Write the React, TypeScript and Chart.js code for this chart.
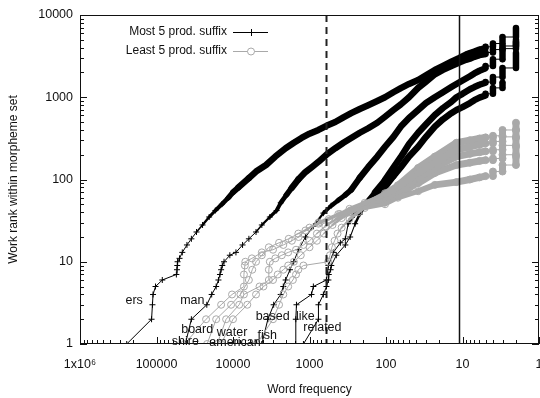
import React, { useEffect, useRef } from "react";
import { Chart, registerables } from "chart.js";

Chart.register(...registerables);

type Pt = [number, number]; // [word frequency, rank within morpheme set]

// ---- axis ticks ----
const xTickValues = [1e6, 1e5, 1e4, 1000, 100, 10, 1];
const xTickLabels = ["1x10\u2076", "100000", "10000", "1000", "100", "10", "1"];
const yTickValues = [1, 10, 100, 1000, 10000];
const yTickLabels = ["1", "10", "100", "1000", "10000"];

// ---- reference lines (word frequency) ----
const dashedLineFreq = 600;
const solidLineFreq = 11;

// ---- Most 5 productive suffixes ----
const ersPoints: Pt[] = [
  [245000, 1], [116000, 2], [113000, 3], [111000, 4], [103000, 5], [84000, 6], [55000, 7], [54000, 8],
  [53500, 9], [53000, 10], [50000, 11], [46000, 13], [40000, 16], [35000, 19], [30000, 23], [25000, 28],
  [20500, 35], [17000, 42], [14000, 50], [11500, 60], [10000, 70], [8500, 80], [6200, 104], [5000, 125],
  [3700, 150], [2800, 190], [2050, 240], [1600, 280], [1270, 320], [1000, 360], [764, 400], [600, 450],
  [460, 500], [360, 570], [285, 640], [220, 720], [171, 800], [130, 900], [103, 1000], [80, 1150],
  [64, 1290], [50, 1450], [38, 1620], [30, 1850], [23, 2150], [18, 2400], [14, 2700], [11, 3000],
  [9, 3300], [8, 3450], [7, 3600], [6, 3800], [5, 3950], [5, 4100], [4, 4100], [4, 4500], [3, 4500],
  [3, 5400], [2, 5400], [2, 6950],
];
const manPoints: Pt[] = [
  [42000, 1], [35000, 2], [22000, 3], [19000, 4], [16600, 5], [15500, 6], [14800, 7], [14300, 8],
  [13800, 9], [13100, 10], [11000, 12], [9150, 13], [7500, 16], [6200, 19], [5000, 23], [4200, 28],
  [3300, 35], [2690, 42], [2380, 52], [2000, 65], [1710, 79], [1400, 100], [1130, 123], [900, 145],
  [764, 164], [600, 200], [459, 240], [360, 280], [285, 320], [220, 370], [171, 420], [130, 490],
  [103, 580], [80, 700], [64, 820], [50, 1000], [38, 1300], [30, 1550], [23, 1900], [18, 2150],
  [14, 2400], [11, 2650], [9, 2850], [8, 2950], [7, 3100], [6, 3250], [5, 3350], [5, 3500], [4, 3500],
  [4, 3800], [3, 3800], [3, 4200], [2, 4200], [2, 5000],
];
const basedPoints: Pt[] = [
  [4200, 1], [3500, 2], [2940, 3], [2380, 4], [2200, 5], [2050, 6], [1800, 8], [1610, 10], [1390, 14],
  [1130, 20], [890, 27], [658, 39], [520, 48], [420, 56], [340, 65], [285, 75], [220, 105], [171, 141],
  [130, 190], [103, 250], [80, 330], [64, 440], [50, 560], [38, 700], [30, 850], [23, 1000], [18, 1150],
  [14, 1330], [12, 1450], [10, 1600], [8, 1800], [7, 1950], [6, 2100], [5, 2250], [5, 2400], [4, 2400],
  [4, 2900], [3, 2900], [3, 3900], [2, 3900], [2, 4700],
];
const likePoints: Pt[] = [
  [1520, 1], [1510, 2], [1480, 3], [942, 4], [890, 5], [601, 6], [566, 9], [488, 13], [395, 17],
  [340, 19], [312, 29], [260, 37], [231, 45], [182, 52], [140, 70], [103, 99], [80, 140], [64, 188],
  [50, 270], [38, 370], [30, 470], [23, 610], [18, 740], [14, 880], [12, 1000], [10, 1100], [8, 1250],
  [7, 1330], [6, 1420], [5, 1500], [5, 1530], [4, 1530], [4, 1760], [3, 1760], [3, 2270], [2, 2270],
  [2, 3450],
];
const relatedPoints: Pt[] = [
  [1200, 1], [764, 2], [764, 3], [658, 4], [600, 5], [566, 6], [560, 7], [530, 8], [518, 9], [446, 12],
  [340, 16], [294, 20], [253, 29], [220, 38], [188, 49], [140, 62], [103, 81], [80, 110], [64, 141],
  [50, 190], [38, 250], [30, 330], [23, 440], [18, 540], [14, 640], [12, 700], [10, 760], [8, 850],
  [7, 920], [6, 990], [5, 1050], [5, 1100], [4, 1100], [4, 1300], [3, 1300], [3, 1500],
];

// ---- Least 5 productive suffixes ----
const shirePoints: Pt[] = [
  [43000, 1], [22500, 2], [14300, 3], [10300, 4], [7200, 5], [7200, 7], [7000, 9], [6900, 10],
  [5660, 11], [4200, 13], [3000, 14], [2200, 16], [1700, 18], [1390, 20], [1130, 24], [764, 30],
  [420, 38], [190, 45], [103, 50], [70, 60], [38, 72], [23, 86], [12, 93], [8, 100], [6, 106], [5, 110],
  [4, 110], [4, 125], [3, 125], [3, 150], [2, 150], [2, 190],
];
const boardPoints: Pt[] = [
  [21800, 1], [16600, 2], [10600, 3], [8000, 4], [6200, 6], [5600, 8], [5000, 10], [4200, 12],
  [3400, 15], [2500, 17], [1870, 19], [1400, 22], [1000, 26], [764, 29], [560, 33], [400, 38],
  [300, 44], [190, 52], [103, 65], [70, 80], [38, 120], [23, 160], [12, 230], [8, 250], [6, 265],
  [5, 275], [4, 275], [4, 290], [3, 290], [3, 330], [2, 330], [2, 400],
];
const americanPoints: Pt[] = [
  [16100, 1], [12300, 2], [8300, 3], [7200, 4], [4500, 5], [3400, 6], [3400, 8], [3300, 10],
  [2800, 11], [2300, 12], [1900, 13], [1500, 14], [1200, 16], [1000, 18], [800, 22], [620, 27],
  [450, 33], [300, 40], [190, 48], [103, 58], [70, 70], [38, 105], [23, 140], [12, 190], [8, 205],
  [6, 215], [5, 220], [4, 220], [4, 230], [3, 230], [3, 260], [2, 260], [2, 320],
];
const waterPoints: Pt[] = [
  [14300, 1], [10000, 2], [6500, 3], [5000, 4], [4000, 5], [3000, 6], [2600, 7], [2200, 8], [1900, 9],
  [1600, 10], [1300, 12], [1000, 15], [800, 18], [650, 22], [500, 28], [380, 34], [280, 40], [190, 50],
  [103, 68], [70, 85], [38, 138], [23, 190], [12, 280], [8, 300], [6, 315], [5, 325], [4, 325],
  [4, 340], [3, 340], [3, 400], [2, 400], [2, 490],
];
const fishPoints: Pt[] = [
  [4900, 1], [3000, 2], [2500, 3], [2200, 4], [1900, 5], [1650, 6], [1500, 7], [1400, 8], [1200, 9],
  [570, 10], [540, 12], [510, 15], [470, 18], [430, 22], [380, 26], [300, 33], [230, 40], [190, 47],
  [103, 55], [70, 62], [38, 90], [23, 120], [12, 150], [8, 160], [6, 168], [5, 172], [4, 172],
  [4, 180], [3, 180], [3, 200], [2, 200], [2, 250],
];

const mostSeries = [ersPoints, manPoints, basedPoints, likePoints, relatedPoints];
const leastSeries = [shirePoints, boardPoints, americanPoints, waterPoints, fishPoints];

// series name labels, anchored at [frequency, rank]
const seriesLabelText = ["ers", "man", "board", "shire", "water", "american", "based", "like", "fish", "related"];
const seriesLabelAt: Pt[] = [
  [196000, 3.33], [34000, 3.33], [29400, 1.48], [42000, 1.06], [10300, 1.36], [9420, 1.03],
  [3030, 2.13], [1130, 2.13], [3560, 1.25], [678, 1.57],
];

const legendText = ["Most 5 prod. suffix", "Least 5 prod. suffix"];

const FONT = "'Liberation Sans', Arial, sans-serif";
const BLACK = "#000000";
const GRAY = "#a9a9a9";

function segWidth(maxW: number) {
  return (ctx: any) => {
    const a = ctx.p0.parsed;
    const b = ctx.p1.parsed;
    if (a.y === b.y) return 1;
    const r = Math.min(a.y, b.y);
    if (a.x === b.x && r >= 50) return maxW;
    const w = 1 + (Math.log10(r) - 1.3) * 9;
    return Math.max(1, Math.min(maxW, w));
  };
}

const toXY = (pts: Pt[]) => pts.map(([x, y]) => ({ x, y }));

const overlayPlugin = {
  id: "overlay",
  afterDatasetsDraw(chart: any) {
    const { ctx, chartArea: a, scales } = chart;
    const xs = scales.x;
    const ys = scales.y;
    ctx.save();
    const xd = Math.round(xs.getPixelForValue(dashedLineFreq)) + 0.5;
    ctx.strokeStyle = "#222";
    ctx.lineWidth = 2;
    ctx.setLineDash([7, 5]);
    ctx.beginPath();
    ctx.moveTo(xd, a.top);
    ctx.lineTo(xd, a.bottom);
    ctx.stroke();
    ctx.setLineDash([]);
    const xsld = Math.round(xs.getPixelForValue(solidLineFreq)) + 0.5;
    ctx.lineWidth = 1.5;
    ctx.strokeStyle = "#111";
    ctx.beginPath();
    ctx.moveTo(xsld, a.top);
    ctx.lineTo(xsld, a.bottom);
    ctx.stroke();

    ctx.fillStyle = "#111";
    ctx.font = `12.5px ${FONT}`;
    ctx.textAlign = "center";
    ctx.textBaseline = "middle";
    seriesLabelText.forEach((t, i) => {
      const [f, r] = seriesLabelAt[i];
      ctx.fillText(t, xs.getPixelForValue(f), ys.getPixelForValue(r));
    });
    ctx.restore();
  },
  afterDraw(chart: any) {
    const { ctx, chartArea: a, scales } = chart;
    const xs = scales.x;
    const ys = scales.y;
    ctx.save();
    ctx.strokeStyle = "#111";
    ctx.lineWidth = 1;
    ctx.strokeRect(a.left + 0.5, a.top + 0.5, a.right - a.left - 1, a.bottom - a.top - 1);
    ctx.beginPath();
    for (let d = 0; d < yTickValues.length; d++) {
      const base = yTickValues[d];
      for (let k = 1; k <= 9; k++) {
        const v = base * k;
        if (v > 10000) break;
        const y = Math.round(ys.getPixelForValue(v)) + 0.5;
        const len = k === 1 ? 7 : 4;
        ctx.moveTo(a.left, y);
        ctx.lineTo(a.left + len, y);
        ctx.moveTo(a.right, y);
        ctx.lineTo(a.right - len, y);
      }
    }
    for (let d = xTickValues.length - 1; d >= 0; d--) {
      const base = xTickValues[d];
      for (let k = 1; k <= 9; k++) {
        const v = base * k;
        if (v > 1e6) break;
        const x = Math.round(xs.getPixelForValue(v)) + 0.5;
        const len = k === 1 ? 7 : 4;
        ctx.moveTo(x, a.bottom);
        ctx.lineTo(x, a.bottom - len);
      }
    }
    ctx.stroke();

    ctx.font = `12px ${FONT}`;
    ctx.textAlign = "right";
    ctx.textBaseline = "middle";
    ctx.fillStyle = "#111";
    const rowsY = [32, 51];
    legendText.forEach((t, i) => ctx.fillText(t, 227, rowsY[i]));
    ctx.lineWidth = 1;
    ctx.strokeStyle = BLACK;
    ctx.beginPath();
    ctx.moveTo(233, rowsY[0] + 0.5);
    ctx.lineTo(268, rowsY[0] + 0.5);
    ctx.moveTo(251.5, rowsY[0] - 3);
    ctx.lineTo(251.5, rowsY[0] + 4);
    ctx.moveTo(248, rowsY[0] + 0.5);
    ctx.lineTo(255, rowsY[0] + 0.5);
    ctx.stroke();
    ctx.strokeStyle = GRAY;
    ctx.beginPath();
    ctx.moveTo(233, rowsY[1] + 0.5);
    ctx.lineTo(247.5, rowsY[1] + 0.5);
    ctx.moveTo(254.5, rowsY[1] + 0.5);
    ctx.lineTo(268, rowsY[1] + 0.5);
    ctx.stroke();
    ctx.beginPath();
    ctx.arc(251, rowsY[1] + 0.5, 3.5, 0, Math.PI * 2);
    ctx.stroke();

    ctx.fillStyle = "#111";
    ctx.font = `12px ${FONT}`;
    ctx.textAlign = "center";
    ctx.textBaseline = "middle";
    ctx.fillText("Word frequency", (a.left + a.right) / 2, 390);
    ctx.translate(14, (a.top + a.bottom) / 2);
    ctx.rotate(-Math.PI / 2);
    ctx.fillText("Work rank within morpheme set", 0, 0);
    ctx.restore();
  },
};

export default function App() {
  const ref = useRef<HTMLCanvasElement>(null);
  useEffect(() => {
    const canvas = ref.current;
    if (!canvas) return;
    const grayDatasets = leastSeries.map((pts) => ({
      data: toXY(pts),
      showLine: true,
      borderColor: GRAY,
      borderWidth: 1,
      borderCapStyle: "round" as const,
      borderJoinStyle: "round" as const,
      pointStyle: "circle" as const,
      pointRadius: 3.5,
      pointBorderWidth: 1,
      pointBorderColor: GRAY,
      pointBackgroundColor: "rgba(0,0,0,0)",
      segment: { borderWidth: segWidth(7) },
      order: 0,
    }));
    const blackDatasets = mostSeries.map((pts) => ({
      data: toXY(pts),
      showLine: true,
      borderColor: BLACK,
      borderWidth: 1,
      borderCapStyle: "round" as const,
      borderJoinStyle: "round" as const,
      pointStyle: "cross" as const,
      pointRadius: 3,
      pointBorderWidth: 1,
      pointBorderColor: BLACK,
      pointBackgroundColor: BLACK,
      segment: { borderWidth: segWidth(6.5) },
      order: 1,
    }));
    const chart = new Chart(canvas, {
      type: "scatter",
      data: { datasets: [...grayDatasets, ...blackDatasets] as any },
      options: {
        responsive: false,
        animation: false,
        events: [],
        layout: { padding: { left: 0, right: 1, top: 15, bottom: 0 }, autoPadding: false } as any,
        plugins: { legend: { display: false }, tooltip: { enabled: false } },
        scales: {
          x: {
            type: "logarithmic",
            reverse: true,
            min: 1,
            max: 1e6,
            afterBuildTicks: (s: any) => {
              s.ticks = xTickValues.map((v) => ({ value: v }));
            },
            afterFit: (s: any) => {
              s.height = 54;
              s.paddingLeft = 0;
              s.paddingRight = 0;
            },
            grid: { display: false, drawTicks: false },
            border: { display: false },
            ticks: {
              callback: (_v: any, i: number) => xTickLabels[i],
              font: { family: FONT, size: 12.5 },
              color: "#111",
              padding: 13,
              maxRotation: 0,
              autoSkip: false,
            },
          },
          y: {
            type: "logarithmic",
            min: 1,
            max: 10000,
            afterBuildTicks: (s: any) => {
              s.ticks = yTickValues.map((v) => ({ value: v }));
            },
            afterFit: (s: any) => {
              s.width = 80;
              s.paddingTop = 0;
              s.paddingBottom = 0;
            },
            grid: { display: false, drawTicks: false },
            border: { display: false },
            ticks: {
              callback: (_v: any, i: number) => yTickLabels[i],
              font: { family: FONT, size: 12.5 },
              color: "#111",
              padding: 7,
              autoSkip: false,
            },
          },
        },
      },
      plugins: [overlayPlugin],
    });
    return () => chart.destroy();
  }, []);
  return (
    <div style={{ position: "fixed", left: 0, top: 0, width: 540, height: 398, background: "#fff" }}>
      <canvas ref={ref} width={540} height={398} style={{ width: 540, height: 398, display: "block" }} />
    </div>
  );
}
